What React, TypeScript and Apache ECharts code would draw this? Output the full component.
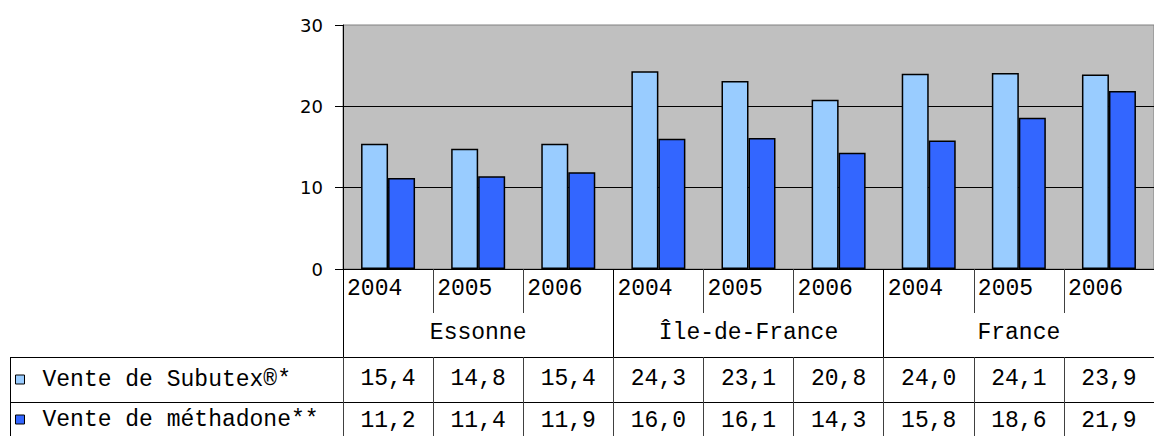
import React, { useEffect, useRef } from "react";
import * as echarts from "echarts";

const years = ["2004", "2005", "2006", "2004", "2005", "2006", "2004", "2005", "2006"];
const regions = ["Essonne", "Île-de-France", "France"];
const subutex = [15.4, 14.8, 15.4, 24.3, 23.1, 20.8, 24.0, 24.1, 23.9];
const methadone = [11.2, 11.4, 11.9, 16.0, 16.1, 14.3, 15.8, 18.6, 21.9];
const seriesNames = ["Vente de Subutex®*", "Vente de méthadone**"];
const yTicks = { min: 0, max: 30, interval: 10 };

const fmt = (v: number) => v.toFixed(1).replace(".", ",");
const MONO = "'Liberation Mono', 'Courier New', monospace";
const FS = 23;

export default function App() {
  const ref = useRef<HTMLDivElement>(null);
  useEffect(() => {
    if (!ref.current) return;
    const chart = echarts.init(ref.current, undefined, { renderer: "svg" });
    chart.setOption({
      animation: false,
      grid: {
        left: 343,
        right: -11,
        top: 25,
        bottom: 167,
        show: true,
        backgroundColor: "#C0C0C0",
        borderColor: "#808080",
        borderWidth: 1,
      },
      legend: {
        orient: "vertical",
        left: 15,
        top: 368,
        padding: 0,
        itemGap: 17,
        itemWidth: 9,
        itemHeight: 9,
        icon: "rect",
        data: seriesNames,
        itemStyle: { borderColor: "#000", borderWidth: 1 },
        textStyle: {
          fontFamily: MONO,
          fontSize: FS,
          lineHeight: 23,
          color: "#000",
          padding: [0, 0, 0, 13],
        },
      },
      yAxis: {
        type: "value",
        min: yTicks.min,
        max: yTicks.max,
        interval: yTicks.interval,
        axisLine: { show: true, lineStyle: { color: "#000", width: 1 } },
        axisTick: { show: true, length: 8, lineStyle: { color: "#000" } },
        axisLabel: {
          fontFamily: "'DejaVu Sans', sans-serif",
          fontSize: 18,
          color: "#000",
          margin: 20,
          padding: [0, 0, 4, 0],
        },
        splitLine: {
          show: true,
          showMinLine: false,
          showMaxLine: false,
          lineStyle: { color: "#000", width: 1 },
        },
      },
      xAxis: [
        {
          type: "category",
          data: years,
          position: "bottom",
          offset: 0,
          axisLine: { show: true, lineStyle: { color: "#000", width: 1 } },
          axisTick: { show: true, length: 44, lineStyle: { color: "#404040" } },
          axisLabel: {
            interval: 0,
            margin: 8,
            formatter: (v: string) => `{y|${v}}`,
            rich: {
              y: {
                width: 82,
                align: "left",
                fontFamily: MONO,
                fontSize: FS,
                lineHeight: 23,
                color: "#000",
              },
            },
          },
        },
        {
          type: "category",
          data: regions,
          position: "bottom",
          offset: 0,
          axisLine: { show: false },
          axisTick: { show: true, length: 168, lineStyle: { color: "#000" } },
          axisLabel: {
            interval: 0,
            margin: 52,
            fontFamily: MONO,
            fontSize: FS,
            color: "#000",
          },
        },
        {
          type: "category",
          data: subutex.map(fmt),
          position: "bottom",
          offset: 88,
          axisLine: { show: true, lineStyle: { color: "#000", width: 1 } },
          axisTick: { show: true, length: 90, lineStyle: { color: "#404040" } },
          axisLabel: {
            interval: 0,
            margin: 10,
            fontFamily: MONO,
            fontSize: FS,
            color: "#000",
          },
        },
        {
          type: "category",
          data: methadone.map(fmt),
          position: "bottom",
          offset: 133,
          axisLine: { show: true, lineStyle: { color: "#000", width: 1 } },
          axisTick: { show: false },
          axisLabel: {
            interval: 0,
            margin: 7,
            fontFamily: MONO,
            fontSize: FS,
            color: "#000",
          },
        },
      ],
      graphic: [
        { type: "line", shape: { x1: 10, y1: 357.5, x2: 343, y2: 357.5 }, style: { stroke: "#000", lineWidth: 1 } },
        { type: "line", shape: { x1: 10, y1: 402.5, x2: 343, y2: 402.5 }, style: { stroke: "#000", lineWidth: 1 } },
        { type: "line", shape: { x1: 10.5, y1: 357, x2: 10.5, y2: 436 }, style: { stroke: "#000", lineWidth: 1 } },
      ],
      series: [
        {
          name: seriesNames[0],
          type: "bar",
          data: subutex,
          barWidth: 27,
          barGap: "0%",
          itemStyle: { color: "#99CCFF", borderColor: "#000", borderWidth: 1.5 },
        },
        {
          name: seriesNames[1],
          type: "bar",
          data: methadone,
          barWidth: 27,
          barGap: "0%",
          itemStyle: { color: "#3366FF", borderColor: "#000", borderWidth: 1.5 },
        },
      ],
    });
    return () => chart.dispose();
  }, []);
  return (
    <div
      ref={ref}
      style={{ position: "fixed", left: 0, top: 0, width: 1154, height: 436, background: "#fff" }}
    />
  );
}
